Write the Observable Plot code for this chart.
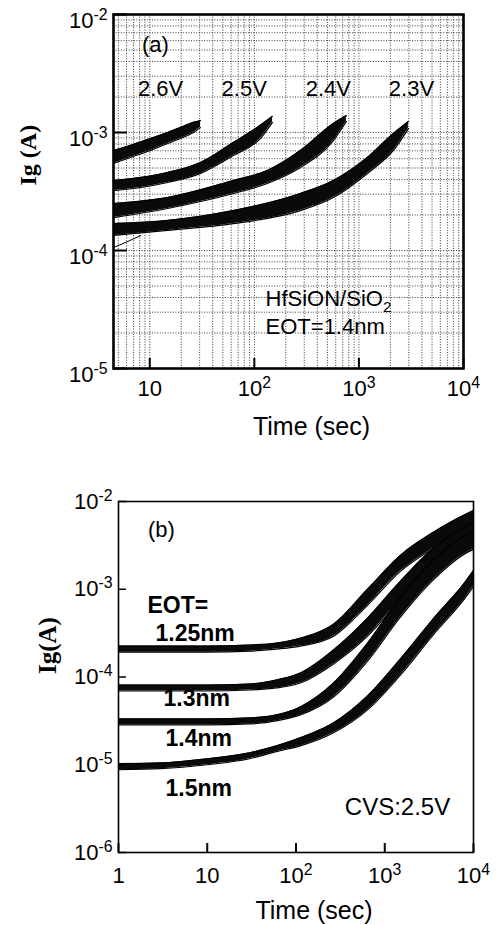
<!DOCTYPE html>
<html><head><meta charset="utf-8">
<script src="https://cdn.jsdelivr.net/npm/d3@7"></script>
<script src="https://cdn.jsdelivr.net/npm/@observablehq/plot@0.6"></script>
<style>
body{margin:0;background:#fff;width:498px;}
svg{display:block;}
</style></head><body>
<div id="chart"></div>
<script>
// ================= Panel (a): HfSiON/SiO2, EOT=1.4nm, several stress voltages =================
const timeA26 = [4.5, 6.5, 10.2, 14.8, 19.6, 26.2, 30.6];
const hiA26   = [7.04e-4, 7.76e-4, 8.89e-4, 1.0e-3, 1.10e-3, 1.22e-3, 1.26e-3];
const loA26   = [5.46e-4, 6.14e-4, 7.04e-4, 8.07e-4, 8.89e-4, 1.0e-3, 1.10e-3];
const timeA25 = [4.5, 8.2, 14.8, 30.6, 63, 114, 149];
const hiA25   = [3.92e-4, 4.16e-4, 4.58e-4, 5.57e-4, 8.22e-4, 1.15e-3, 1.37e-3];
const loA25   = [3.22e-4, 3.42e-4, 3.77e-4, 4.50e-4, 6.38e-4, 8.89e-4, 1.22e-3];
const timeA24 = [4.5, 14.8, 63, 133, 276, 570, 759];
const hiA24   = [2.50e-4, 2.81e-4, 3.92e-4, 4.76e-4, 7.04e-4, 1.19e-3, 1.39e-3];
const loA24   = [1.90e-4, 2.27e-4, 3.04e-4, 3.70e-4, 5.05e-4, 8.55e-4, 1.24e-3];
const timeA23 = [4.5, 14.8, 63, 276, 570, 1205, 2137, 2972];
const hiA23   = [1.69e-4, 1.80e-4, 2.18e-4, 3.04e-4, 3.92e-4, 6.14e-4, 9.81e-4, 1.24e-3];
const loA23   = [1.34e-4, 1.48e-4, 1.69e-4, 2.18e-4, 2.81e-4, 4.50e-4, 7.04e-4, 1.08e-3];
const strayTimeA = [4.5, 6.0, 8.2];
const strayIA    = [1.06e-4, 1.18e-4, 1.34e-4];

const voltLabels    = ["2.6V", "2.5V", "2.4V", "2.3V"];
const voltLabelTime = [12.7, 80, 510, 3180];
const voltLabelI    = [2.36e-3, 2.36e-3, 2.36e-3, 2.36e-3];

const xTicksA = [10, 100, 1000, 10000];
const xTickLabelsA = ["10", "10|2", "10|3", "10|4"];
const yTicksA = [1e-5, 1e-4, 1e-3, 1e-2];
const yTickLabelsA = ["10|-5", "10|-4", "10|-3", "10|-2"];

// ================= Panel (b): CVS 2.5V, four EOTs =================
const timeB  = [1, 3, 10, 30, 60, 112, 265, 640, 1500, 3500, 8500, 10000];
const hiB125 = [2.25e-4, 2.25e-4, 2.25e-4, 2.31e-4, 2.43e-4, 2.77e-4, 4.0e-4, 1.0e-3, 2.43e-3, 4.44e-3, 7.31e-3, 7.90e-3];
const loB125 = [1.92e-4, 1.92e-4, 1.92e-4, 1.97e-4, 2.08e-4, 2.25e-4, 2.92e-4, 6.58e-4, 1.60e-3, 2.92e-3, 5.07e-3, 5.48e-3];
const hiB13  = [8.11e-5, 8.11e-5, 8.11e-5, 8.32e-5, 9.25e-5, 1.11e-4, 2.03e-4, 4.68e-4, 1.23e-3, 2.92e-3, 5.34e-3, 5.77e-3];
const loB13  = [6.93e-5, 6.93e-5, 6.93e-5, 7.11e-5, 7.50e-5, 8.55e-5, 1.41e-4, 2.92e-4, 7.69e-4, 1.82e-3, 3.51e-3, 3.80e-3];
const hiB14  = [3.33e-5, 3.33e-5, 3.33e-5, 3.42e-5, 3.70e-5, 4.56e-5, 8.55e-5, 2.43e-4, 8.11e-4, 2.14e-3, 4.22e-3, 4.56e-3];
const loB14  = [2.85e-5, 2.85e-5, 2.85e-5, 2.92e-5, 3.16e-5, 3.70e-5, 5.93e-5, 1.52e-4, 4.81e-4, 1.27e-3, 2.63e-3, 2.85e-3];
const hiB15  = [1.03e-5, 1.05e-5, 1.17e-5, 1.37e-5, 1.64e-5, 2.03e-5, 3.0e-5, 6.08e-5, 1.60e-4, 4.56e-4, 1.30e-3, 1.64e-3];
const loB15  = [8.77e-6, 9.01e-6, 1.0e-5, 1.17e-5, 1.41e-5, 1.64e-5, 2.31e-5, 4.22e-5, 1.05e-4, 3.0e-4, 8.55e-4, 1.08e-3];

const eotLabels    = ["EOT=", "1.25nm", "1.3nm", "1.4nm", "1.5nm"];
const eotLabelTime = [2.12, 2.61, 3.21, 3.39, 3.39];
const eotLabelI    = [6.58e-4, 3.16e-4, 5.62e-5, 1.97e-5, 5.33e-6];

const xTicksB = [1, 10, 100, 1000, 10000];
const xTickLabelsB = ["1", "10", "10|2", "10|3", "10|4"];
const yTicksB = [1e-6, 1e-5, 1e-4, 1e-3, 1e-2];
const yTickLabelsB = ["10|-6", "10|-5", "10|-4", "10|-3", "10|-2"];

// ---------------------------------------------------------------
const SANS = "Liberation Sans, Arial, Helvetica, sans-serif";
const SERIF = "Liberation Serif, Times New Roman, serif";

function band(time, hi, lo) { return time.map((t, i) => ({t, hi: hi[i], lo: lo[i]})); }
function bundleMarks(b) {
  return [
    Plot.areaY(b, {x: "t", y1: "lo", y2: "hi", fill: "#0a0a0a", curve: "monotone-x"}),
    Plot.line(b, {x: "t", y: "hi", stroke: "#000", strokeWidth: 1.2, curve: "monotone-x"}),
    Plot.line(b, {x: "t", y: "lo", stroke: "#000", strokeWidth: 1.2, curve: "monotone-x"})
  ];
}
function decadeMultiples(lo, hi) {
  const out = [];
  for (let e = lo; e <= hi; e++) for (let m = 1; m <= 9; m++) out.push(m * Math.pow(10, e));
  return out;
}
function richify(svg) {
  const ns = "http://www.w3.org/2000/svg";
  svg.querySelectorAll("text").forEach(t => {
    const targets = t.children.length ? Array.from(t.querySelectorAll("tspan")) : [t];
    targets.forEach(el => {
      const s = el.textContent;
      let m = s.match(/^(.*)\|(.*)$/);
      if (m) {
        el.textContent = m[1];
        const ts = document.createElementNS(ns, "tspan");
        ts.setAttribute("dy", "-0.5em"); ts.setAttribute("font-size", "0.72em");
        ts.textContent = m[2]; el.appendChild(ts);
        return;
      }
      m = s.match(/^(.*)_(.*)$/);
      if (m) {
        el.textContent = m[1];
        const ts = document.createElementNS(ns, "tspan");
        ts.setAttribute("dy", "0.35em"); ts.setAttribute("font-size", "0.7em");
        ts.textContent = m[2]; el.appendChild(ts);
      }
    });
  });
}

// ---------------- Panel (a) ----------------
const xDomA = [4.5, 10000], yDomA = [1e-5, 1e-2];
const gridXA = decadeMultiples(0, 4).filter(v => v >= xDomA[0] && v <= xDomA[1]);
const gridYA = decadeMultiples(-5, -2).filter(v => v >= yDomA[0] && v <= yDomA[1]);
const bandsA = [band(timeA26, hiA26, loA26), band(timeA25, hiA25, loA25), band(timeA24, hiA24, loA24), band(timeA23, hiA23, loA23)];
const strayA = strayTimeA.map((t, i) => ({t, I: strayIA[i]}));
const voltLabelData = voltLabels.map((s, i) => ({s, t: voltLabelTime[i], I: voltLabelI[i]}));

const gridStyle = {stroke: "#3a3a3a", strokeOpacity: 1, strokeWidth: 1, strokeDasharray: "1,1.6"};

const plotA = Plot.plot({
  width: 498, height: 445,
  marginLeft: 113, marginRight: 35, marginTop: 14, marginBottom: 77,
  style: {fontFamily: SANS, fontSize: "22px", color: "#000", background: "#fff"},
  x: {type: "log", domain: xDomA, axis: null},
  y: {type: "log", domain: yDomA, axis: null},
  marks: [
    Plot.gridX(gridXA, gridStyle),
    Plot.gridY(gridYA, gridStyle),
    ...bandsA.flatMap(bundleMarks),
    Plot.line(strayA, {x: "t", y: "I", stroke: "#000", strokeWidth: 1, curve: "monotone-x"}),
    Plot.text(voltLabelData, {x: "t", y: "I", text: "s", fontSize: 22, textAnchor: "middle"}),
    Plot.text(["(a)"], {x: [11.3], y: [5.57e-3], fontSize: 22, textAnchor: "middle"}),
    Plot.text(["HfSiON/SiO_2"], {x: [128], y: [3.85e-5], fontSize: 22, textAnchor: "start"}),
    Plot.text(["EOT=1.4nm"], {x: [128], y: [2.27e-5], fontSize: 22, textAnchor: "start"}),
    // inward tick marks
    Plot.axisX({ticks: xTicksA, tickSize: 10, dy: -10, tickFormat: () => "", label: null, strokeWidth: 2}),
    Plot.axisY({ticks: yTicksA, tickSize: 14, dx: 14, tickFormat: () => "", label: null, strokeWidth: 2}),
    // tick labels
    Plot.axisX({ticks: xTicksA, tickSize: 0, tickPadding: 12, tickFormat: d => xTickLabelsA[xTicksA.indexOf(d)], label: null}),
    Plot.axisY({ticks: yTicksA, tickSize: 0, tickPadding: 6, dy: 6, tickFormat: d => yTickLabelsA[yTicksA.indexOf(d)], label: null}),
    Plot.frame({stroke: "#000", strokeWidth: 2.6}),
    Plot.text(["Time (sec)"], {frameAnchor: "bottom", dx: 23, dy: 58, fontSize: 25, lineAnchor: "middle"}),
    Plot.text(["Ig (A)"], {frameAnchor: "left", rotate: -90, dx: -85, dy: -6, fontSize: 24, fontWeight: "bold", fontFamily: SERIF, lineAnchor: "middle"})
  ]
});

// ---------------- Panel (b) ----------------
const xDomB = [1, 10000], yDomB = [1e-6, 1e-2];
const bandsB = [band(timeB, hiB125, loB125), band(timeB, hiB13, loB13), band(timeB, hiB14, loB14), band(timeB, hiB15, loB15)];
const eotLabelData = eotLabels.map((s, i) => ({s, t: eotLabelTime[i], I: eotLabelI[i]}));

const plotB = Plot.plot({
  width: 498, height: 480,
  marginLeft: 118, marginRight: 25, marginTop: 56, marginBottom: 73,
  style: {fontFamily: SANS, fontSize: "22px", color: "#000", background: "#fff"},
  x: {type: "log", domain: xDomB, axis: null},
  y: {type: "log", domain: yDomB, axis: null},
  marks: [
    ...bandsB.flatMap(bundleMarks),
    Plot.text(["(b)"], {x: [3.05], y: [4.8e-3], fontSize: 22, textAnchor: "middle"}),
    Plot.text(eotLabelData, {x: "t", y: "I", text: "s", fontSize: 23, fontWeight: "bold", textAnchor: "start"}),
    Plot.text(["CVS:2.5V"], {x: [1393], y: [3.24e-6], fontSize: 24, textAnchor: "middle"}),
    Plot.axisX({ticks: xTicksB, tickSize: 9, dy: -9, tickFormat: () => "", label: null, strokeWidth: 2}),
    Plot.axisY({ticks: yTicksB, tickSize: 8, dx: 8, tickFormat: () => "", label: null, strokeWidth: 1.5}),
    Plot.axisX({ticks: xTicksB, tickSize: 0, tickPadding: 15, tickFormat: d => xTickLabelsB[xTicksB.indexOf(d)], label: null}),
    Plot.axisY({ticks: yTicksB, tickSize: 0, tickPadding: 6, tickFormat: d => yTickLabelsB[yTicksB.indexOf(d)], label: null}),
    Plot.frame({stroke: "#000", strokeWidth: 1.6}),
    Plot.text(["Time (sec)"], {frameAnchor: "bottom", dx: 18, dy: 58, fontSize: 25, lineAnchor: "middle"}),
    Plot.text(["Ig(A)"], {frameAnchor: "left", rotate: -90, dx: -71, dy: -3, fontSize: 25, fontWeight: "bold", fontFamily: SERIF, lineAnchor: "middle"})
  ]
});

const root = document.getElementById("chart");
root.appendChild(plotA);
root.appendChild(plotB);
richify(plotA);
richify(plotB);
</script>
</body></html>
